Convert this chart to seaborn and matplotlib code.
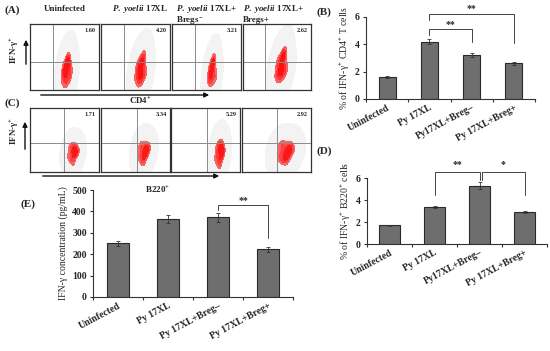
import matplotlib
matplotlib.use('Agg')
import matplotlib.pyplot as plt
import seaborn as sns
import pandas as pd
from matplotlib.patches import FancyArrowPatch
from matplotlib.colors import LinearSegmentedColormap

sns.set_style('ticks')
plt.rcParams['font.family'] = ['Liberation Serif', 'DejaVu Serif']
plt.rcParams['font.weight'] = 'bold'
plt.rcParams['mathtext.fontset'] = 'custom'
plt.rcParams['mathtext.rm'] = 'Liberation Serif:bold'
plt.rcParams['mathtext.it'] = 'Liberation Serif:italic:bold'
plt.rcParams['mathtext.bf'] = 'Liberation Serif:bold'

## Data
# bar panels
groups_bd = ['Uninfected', 'Py 17XL', 'Py17XL+Breg\u2013', 'Py 17XL+Breg+']
cd4_pct = [1.6, 4.2, 3.2, 2.6]
cd4_err = [0.06, 0.2, 0.13, 0.08]
b220_pct = [1.7, 3.35, 5.3, 2.9]
b220_err = [0.07, 0.1, 0.3, 0.12]
groups_e = ['Uninfected', 'Py 17XL', 'Py 17XL+Breg\u2013', 'Py 17XL+Breg+']
ifng_conc = [252, 364, 372, 222]
ifng_err = [12, 20, 20, 12]

# flow plots: gate percentages and rough outline of the red cell cluster
cd4_gate_pct = ['1.60', '4.20', '3.21', '2.62']
b220_gate_pct = ['1.71', '3.34', '5.29', '2.92']
cd4_cluster_x = [
    [0.46, 0.50, 0.54, 0.58, 0.60, 0.48, 0.52, 0.56, 0.53, 0.55, 0.50, 0.57],
    [0.50, 0.54, 0.58, 0.62, 0.66, 0.52, 0.56, 0.60, 0.58, 0.63, 0.55, 0.61],
    [0.52, 0.55, 0.59, 0.63, 0.64, 0.54, 0.57, 0.60, 0.58, 0.61, 0.56, 0.60],
    [0.48, 0.52, 0.57, 0.62, 0.64, 0.50, 0.55, 0.60, 0.57, 0.61, 0.53, 0.59],
]
cd4_cluster_y = [
    [0.15, 0.08, 0.12, 0.18, 0.30, 0.34, 0.40, 0.45, 0.25, 0.52, 0.26, 0.38],
    [0.18, 0.10, 0.14, 0.20, 0.30, 0.36, 0.42, 0.48, 0.28, 0.55, 0.26, 0.38],
    [0.16, 0.10, 0.12, 0.18, 0.28, 0.32, 0.38, 0.44, 0.26, 0.50, 0.22, 0.36],
    [0.22, 0.16, 0.20, 0.26, 0.36, 0.42, 0.48, 0.54, 0.32, 0.60, 0.30, 0.44],
]
b220_cluster_x = [
    [0.55, 0.59, 0.63, 0.67, 0.70, 0.57, 0.61, 0.65, 0.63, 0.66, 0.60, 0.64],
    [0.54, 0.58, 0.62, 0.66, 0.70, 0.56, 0.60, 0.64, 0.62, 0.67, 0.59, 0.65],
    [0.64, 0.67, 0.71, 0.75, 0.77, 0.66, 0.70, 0.73, 0.71, 0.74, 0.68, 0.72],
    [0.52, 0.57, 0.63, 0.69, 0.74, 0.55, 0.60, 0.66, 0.64, 0.70, 0.58, 0.67],
]
b220_cluster_y = [
    [0.24, 0.18, 0.22, 0.28, 0.34, 0.38, 0.42, 0.30, 0.12, 0.40, 0.30, 0.36],
    [0.24, 0.18, 0.22, 0.28, 0.36, 0.40, 0.46, 0.30, 0.12, 0.42, 0.32, 0.38],
    [0.22, 0.14, 0.18, 0.26, 0.34, 0.40, 0.46, 0.30, 0.08, 0.44, 0.30, 0.38],
    [0.24, 0.18, 0.22, 0.28, 0.36, 0.42, 0.46, 0.30, 0.14, 0.44, 0.32, 0.38],
]
b220_gate_x = [0.49, 0.52, 0.52, 0.51]

W, H = 550, 351
fig = plt.figure(figsize=(W / 100, H / 100), dpi=100)


def box(x0, y0, x1, y1):
    return [x0 / W, 1 - y1 / H, (x1 - x0) / W, (y1 - y0) / H]


def pt(x, y):
    return (x / W, 1 - y / H)


def arrow(a, b):
    fig.add_artist(FancyArrowPatch(pt(*a), pt(*b), transform=fig.transFigure,
                                   arrowstyle='-|>', mutation_scale=7, lw=1.0, color='#111111'))


grey_cmap = LinearSegmentedColormap.from_list('halo', ['#f6f6f6', '#e9e9e9'])
red_cmap = LinearSegmentedColormap.from_list('core', ['#f47a7a', '#ff0000'])


def flow_panel(rect, xs, ys, gx, gy, pct):
    ax = fig.add_axes(rect)
    sns.kdeplot(x=xs, y=ys, fill=True, cmap=grey_cmap, levels=3, thresh=0.02, bw_adjust=2.0, ax=ax)
    sns.kdeplot(x=xs, y=ys, fill=True, cmap=red_cmap, levels=4, thresh=0.3, bw_adjust=1.0, ax=ax)
    ax.axvline(gx, color='#8a8a8a', lw=0.7)
    ax.axhline(gy, color='#8a8a8a', lw=0.7)
    ax.set(xlim=(0, 1), ylim=(0, 1), xticks=[], yticks=[], xlabel='', ylabel='')
    for s in ax.spines.values():
        s.set_linewidth(0.9)
        s.set_color('#333333')
    ax.text(0.95, 0.94, pct, transform=ax.transAxes, ha='right', va='top', fontsize=4.5)


## (A) IFN-g+ CD4+ flow plots
row1_x = [(30, 99), (101, 170), (172, 241), (243, 311)]
for i, (x0, x1) in enumerate(row1_x):
    flow_panel(box(x0, 24, x1, 90), cd4_cluster_x[i], cd4_cluster_y[i], 0.33, 0.42, cd4_gate_pct[i])

fig.text(*pt(12, 10), '(A)', fontsize=8, ha='center', va='center')
fig.text(*pt(65, 9), 'Uninfected', fontsize=6.5, ha='center', va='center')
fig.text(*pt(112, 9), r'$\mathit{P.\ yoelii}$ 17XL', fontsize=6.5, ha='left', va='center')
fig.text(*pt(176, 9), r'$\mathit{P.\ yoelii}$ 17XL+', fontsize=6.5, ha='left', va='center')
fig.text(*pt(176, 19.5), r'Bregs$^{-}$', fontsize=6.5, ha='left', va='center')
fig.text(*pt(243, 9), r'$\mathit{P.\ yoelii}$ 17XL+', fontsize=6.5, ha='left', va='center')
fig.text(*pt(243, 19.5), 'Bregs+', fontsize=6.5, ha='left', va='center')
fig.text(*pt(15, 50), r'IFN-γ$^{+}$', fontsize=6.5, rotation=90, ha='center', va='center')
arrow((26, 67), (26, 37))
arrow((38, 95), (212, 95))
fig.text(*pt(140, 101), r'CD4$^{+}$', fontsize=6.5, ha='center', va='center')

## (C) IFN-g+ B220+ flow plots
row2_x = [(30, 99), (101, 170), (171, 240), (242, 311)]
for i, (x0, x1) in enumerate(row2_x):
    flow_panel(box(x0, 108, x1, 172), b220_cluster_x[i], b220_cluster_y[i], b220_gate_x[i], 0.45,
               b220_gate_pct[i])

fig.text(*pt(12, 103), '(C)', fontsize=8, ha='center', va='center')
fig.text(*pt(15, 131), r'IFN-γ$^{+}$', fontsize=6.5, rotation=90, ha='center', va='center')
arrow((25, 152), (25, 119))
arrow((40, 176), (222, 176))
fig.text(*pt(157, 190), r'B220$^{+}$', fontsize=6.5, ha='center', va='center')


## bar panels
def bar_panel(rect, groups, vals, errs, ymax, yticks, ylabel, width):
    ax = fig.add_axes(rect)
    df = pd.DataFrame({'group': groups, 'value': vals})
    sns.barplot(data=df, x='group', y='value', color='#6e6e6e', saturation=1, width=width,
                edgecolor='#2a2a2a', linewidth=0.8, errorbar=None, ax=ax)
    ax.errorbar(range(len(vals)), vals, yerr=errs, fmt='none', ecolor='#333333',
                elinewidth=0.6, capsize=1.5, capthick=0.6)
    ax.set_xlim(-0.5, len(vals) - 0.5)
    ax.set_ylim(0, ymax)
    ax.set_yticks(yticks)
    ax.set_xlabel('')
    ax.set_ylabel(ylabel, fontsize=7, labelpad=3)
    sns.despine(ax=ax)
    for s in ('left', 'bottom'):
        ax.spines[s].set_linewidth(0.8)
        ax.spines[s].set_color('#333333')
    ax.set_xticks([i - 0.5 for i in range(len(vals) + 1)], minor=True)
    ax.tick_params(axis='x', which='major', length=0, pad=3)
    ax.tick_params(axis='x', which='minor', length=2.5, width=0.8, color='#333333')
    ax.tick_params(axis='y', length=2.5, width=0.8, color='#333333', labelsize=7, pad=2)
    ax.set_xticks(range(len(vals)))
    ax.set_xticklabels(groups, rotation=28, ha='right', va='top', rotation_mode='anchor', fontsize=7)
    return ax


def bracket(ax, x1, x2, top, y1, y2, label, label_y):
    ax.plot([x1, x1, x2, x2], [y1, top, top, y2], color='#444444', lw=0.7, clip_on=False)
    ax.text((x1 + x2) / 2, label_y, label, ha='center', va='center', fontsize=7)


# (B)
ax_b = bar_panel(box(366, 17, 535, 99), groups_bd, cd4_pct, cd4_err, 6, [0, 2, 4, 6],
                 r'% of IFN-γ$^{+}$ CD4$^{+}$ T cells', 0.4)
bracket(ax_b, 1, 2, 5.1, 4.7, 4.2, '**', 5.45)
bracket(ax_b, 1, 3, 6.2, 5.8, 4.1, '**', 6.6)
fig.text(*pt(324, 12), '(B)', fontsize=8, ha='center', va='center')

# (D)
ax_d = bar_panel(box(367, 178, 547, 244), groups_bd, b220_pct, b220_err, 6, [0, 2, 4, 6],
                 r'% of IFN-γ$^{+}$ B220$^{+}$ cells', 0.47)
bracket(ax_d, 1, 2, 6.55, 4.45, 5.8, '**', 7.2)
bracket(ax_d, 2.05, 3, 6.55, 5.8, 4.45, '*', 7.2)
fig.text(*pt(324, 151), '(D)', fontsize=8, ha='center', va='center')

# (E)
ax_e = bar_panel(box(93, 190, 293, 297), groups_e, ifng_conc, ifng_err, 500, [0, 100, 200, 300, 400, 500],
                 'IFN-γ concentration (pg/mL)', 0.43)
bracket(ax_e, 2, 3, 430, 407, 276, '**', 453)
fig.text(*pt(28, 204), '(E)', fontsize=8, ha='center', va='center')

fig.savefig('out.png', dpi=100)
